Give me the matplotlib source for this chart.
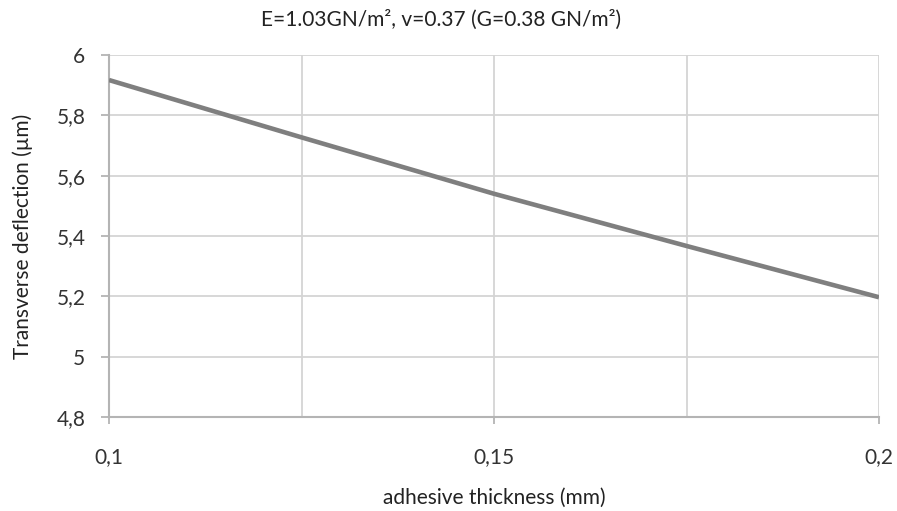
import numpy as np
import matplotlib
matplotlib.use('Agg')
import matplotlib.pyplot as plt
from matplotlib.ticker import FuncFormatter, MultipleLocator

# values
thickness = [0.1, 0.125, 0.15, 0.175, 0.2]
deflection = [5.917, 5.727, 5.54, 5.367, 5.197]
y_ticks = [4.8, 5.0, 5.2, 5.4, 5.6, 5.8, 6.0]
x_ticks = [0.1, 0.15, 0.2]

title = 'E=1.03GN/m², v=0.37 (G=0.38 GN/m²)'
x_label = 'adhesive thickness (mm)'
y_label = 'Transverse deflection (µm)'

plt.rcParams['font.family'] = ['Lato', 'DejaVu Sans']


def comma(v, pos=None):
    s = f'{v:.2f}'.rstrip('0').rstrip('.')
    return s.replace('.', ',')


fig = plt.figure(figsize=(8.97, 5.11), dpi=100)
ax = fig.add_axes([109 / 897, 94 / 511, 770 / 897, 362 / 511])

ax.plot(thickness, deflection, color='#7f7f7f', lw=3.3, solid_capstyle='butt', zorder=3)

ax.set_xlim(0.1, 0.2)
ax.set_ylim(4.8, 6.0)
ax.set_xticks(x_ticks)
ax.xaxis.set_minor_locator(MultipleLocator(0.025))
ax.set_yticks(y_ticks)
ax.xaxis.set_major_formatter(FuncFormatter(comma))
ax.yaxis.set_major_formatter(FuncFormatter(comma))

ax.grid(True, which='both', color='#d4d4d4', lw=1.3)
ax.set_axisbelow(True)
for side in ['top', 'right']:
    ax.spines[side].set_visible(False)
for side in ['left', 'bottom']:
    ax.spines[side].set_color('#b4b4b4')
    ax.spines[side].set_linewidth(1.5)

ax.tick_params(axis='y', which='major', length=6, width=1.3, color='#b4b4b4',
               pad=11, labelsize=15, labelcolor='#333333')
ax.tick_params(axis='x', which='major', length=5, width=1.3, color='#b4b4b4',
               pad=16.5, labelsize=15, labelcolor='#333333')
ax.tick_params(axis='x', which='minor', length=0)

ax.set_xlabel(x_label, fontsize=15, color='#222222', labelpad=15)
ax.set_ylabel(y_label, fontsize=15, color='#222222', labelpad=17)
fig.text(0.492, 1 - 20 / 511, title, fontsize=15, color='#222222', ha='center', va='center')

fig.savefig('out.png', dpi=100)
